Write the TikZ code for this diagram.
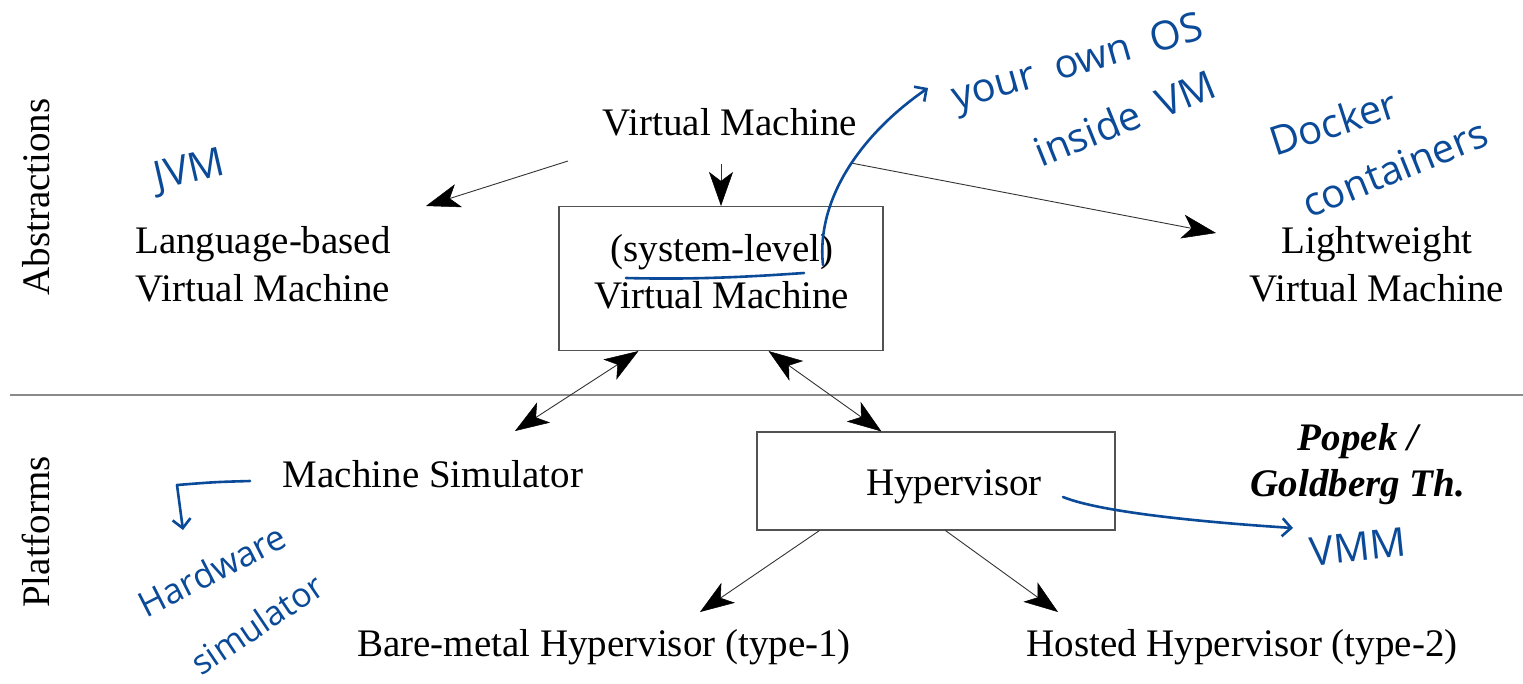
\documentclass[tikz,border=0pt]{standalone}
\usepackage{fontspec}
\setmainfont{Liberation Serif}
\newfontfamily\inkfont{Open Sans}
\usetikzlibrary{arrows.meta}
\definecolor{ink}{HTML}{0B4A98}
\definecolor{rulegray}{HTML}{8A8A8A}
\definecolor{edge}{HTML}{333333}
\begin{document}
\begin{tikzpicture}[x=1pt,y=-1pt,
  txt/.style={font=\fontsize{39}{48}\selectfont, inner sep=0pt, align=center},
  frame/.style={draw=edge!85, line width=1.1pt, inner sep=0pt},
  tip/.tip={Stealth[length=34pt,width=24pt,inset=9pt,color=black,fill=black,line width=0.5pt]},
  conn/.style={draw=edge, line width=0.9pt, -tip},
  biconn/.style={draw=edge, line width=0.9pt, tip-tip},
  inktxt/.style={text=ink, font=\inkfont\fontsize{40}{44}\selectfont, inner sep=0pt},
  inkline/.style={draw=ink, line width=2.6pt, line cap=round, line join=round},
  barb/.style={-{Straight Barb[length=9pt,width=18pt]}}]
\useasboundingbox (0,0) rectangle (1523,683);
\fill[white] (0,0) rectangle (1523,683);

% layer labels and divider
\node[txt, rotate=90] (abs) at (36,197) {Abstractions};
\node[txt, rotate=90] (plat) at (36,532) {Platforms};
\draw[rulegray, line width=1.4pt] (10,395) -- (1523,395);

% abstractions
\node[txt] (vm) at (730,122) {Virtual Machine};
\node[frame, minimum width=324pt, minimum height=144pt] (sysvm) at (721,278.5) {};
\node[txt] (sysl) at (722,252) {(system-level)};
\node[txt] (sysm) at (722,295) {Virtual Machine};
\node[txt] (lang) at (263,264) {Language-based\\Virtual Machine};
\node[txt] (light) at (1377,264) {Lightweight\\Virtual Machine};

% platforms
\node[txt] (sim) at (433,474) {Machine Simulator};
\node[frame, minimum width=358pt, minimum height=98pt] (hyp) at (936,481) {};
\node[txt] (hyptxt) at (954,487) {Hypervisor};
\node[txt] (bare) at (604,647) {Bare-metal Hypervisor (type-1)};
\node[txt] (hosted) at (1242,647) {Hosted Hypervisor (type-2)};
\node[txt, font=\fontsize{39}{46}\selectfont\bfseries\itshape] (popek) at (1358,464) {Popek /\\Goldberg Th.};

% connector ends
\coordinate (vmL) at (568,161);
\coordinate (langT) at (426,206);
\coordinate (vmR) at (851,163);
\coordinate (lightT) at (1216,233);
\coordinate (simT) at (515,431);
\coordinate (bareT) at (700,612);
\coordinate (hostT) at (1058,612);

% connectors
\draw[conn, shorten <=28pt] (sysvm.north |- vm.south) -- (sysvm.north);
\draw[conn] (vmL) -- (langT);
\draw[conn] (vmR) -- (lightT);
\draw[biconn] ([xshift=80pt]sysvm.south west) -- (simT);
\draw[biconn] ([xshift=-115pt]sysvm.south east) -- ([xshift=125pt]hyp.north west);
\draw[conn] ([xshift=63pt]hyp.south west) -- (bareT);
\draw[conn] ([xshift=189pt]hyp.south west) -- (hostT);

% handwritten notes
\node[inktxt, rotate=13] (jvm) at (190,172) {JVM};
\node[inktxt, rotate=16] (ownos) at (1078,65) {your\ \ own\ \ OS};
\node[inktxt, rotate=22] (inside) at (1125,118) {inside\ \ VM};
\node[inktxt, rotate=18] (docker) at (1333,122) {Docker};
\node[inktxt, rotate=22] (contain) at (1395,168) {containers};
\node[inktxt, rotate=27, font=\inkfont\fontsize{35}{40}\selectfont] (hw) at (212,570) {Hardware};
\node[inktxt, rotate=34, font=\inkfont\fontsize{34}{40}\selectfont] (hwsim) at (257,624) {simulator};
\node[inktxt, rotate=6] (vmm) at (1358,547) {VMM};

% handwritten strokes
\draw[inkline] (626,278) .. controls (700,280) and (760,276) .. (804,273);
\draw[inkline, barb] (823,265) .. controls (816,200) and (860,135) .. (928,88);
\draw[inkline, barb] (250,481) .. controls (215,482) .. (177,485) -- (183,530);
\draw[inkline, barb] (1063,497) .. controls (1100,512) and (1200,522) .. (1293,528);
\end{tikzpicture}
\end{document}
